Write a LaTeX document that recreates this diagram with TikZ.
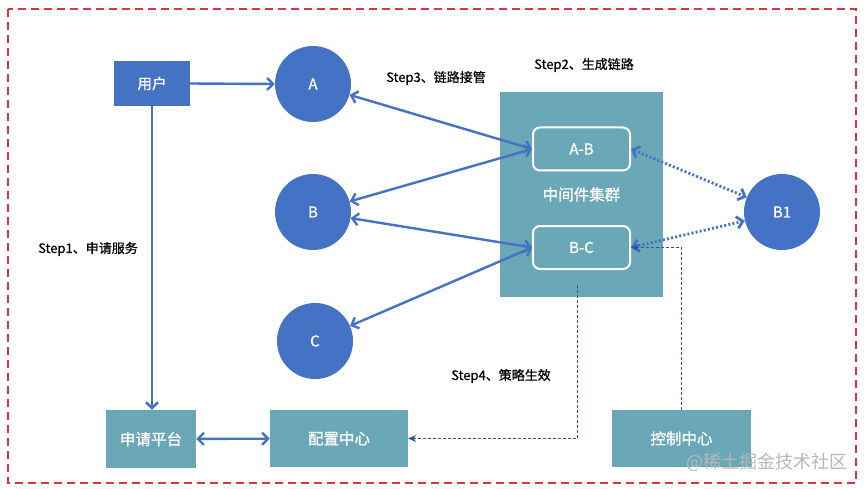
\documentclass[tikz,border=0pt]{standalone}
\usepackage{fontspec}
\setmainfont{Noto Sans CJK SC}
\newfontfamily\semib[FakeBold=1.2]{Noto Sans CJK SC}
\newfontfamily\medf[FakeBold=0.6]{Noto Sans CJK SC}
\usetikzlibrary{arrows.meta,positioning}
\definecolor{mblue}{HTML}{4472C4}
\definecolor{mteal}{HTML}{6AA8B8}
\definecolor{mred}{HTML}{E0333A}
\definecolor{mdash}{HTML}{2F5597}
\tikzset{
  bluebox/.style={fill=mblue, draw=none, text=white, font=\semib\fontsize{14.5}{16}\selectfont, inner sep=0pt},
  tealbox/.style={fill=mteal, draw=none, text=white, font=\semib\fontsize{15.5}{17}\selectfont, inner sep=0pt},
  bcirc/.style={circle, fill=mblue, draw=none, text=white, minimum size=76, inner sep=0pt, font=\semib\fontsize{15}{17}\selectfont},
  inbox/.style={draw=white, line width=2pt, rounded corners=7pt, minimum width=97, minimum height=43, text=white, font=\semib\fontsize{15}{17}\selectfont, inner sep=0pt},
  steplabel/.style={anchor=west, font=\medf\fontsize{13}{15}\selectfont, text=black, inner sep=0pt},
  barrow/.style={draw=mblue, line width=2.4pt, -{Straight Barb[length=6pt,width=12pt]}},
  dbarrow/.style={draw=mblue, line width=2.4pt, {Straight Barb[length=6pt,width=12pt]}-{Straight Barb[length=6pt,width=12pt]}},
  dotarrow/.style={draw=mblue, line width=2.8pt, dash pattern=on 2pt off 2.2pt, {Straight Barb[length=6pt,width=12pt]}-{Straight Barb[length=6pt,width=12pt]}},
  thindash/.style={draw=mdash, line width=1pt, dash pattern=on 3pt off 2pt, -{Stealth[length=8pt,width=7pt]}}
}
\begin{document}
\begin{tikzpicture}[x=1pt,y=-1pt]
\useasboundingbox (0,0) rectangle (864,489);
\fill[white] (0,0) rectangle (864,489);
\draw[mred, line width=1.4pt, dash pattern=on 8pt off 5pt] (8,9) rectangle (856,483);

% nodes
\node[bluebox, minimum width=76, minimum height=45] (user) at (152,83.5) {用户};
\node[bcirc] (A) at (313,84) {A};
\node[bcirc] (B) at (313,212) {B};
\node[bcirc] (C) at (315,341) {C};
\node[bcirc] (B1) at (782,212) {B1};
\node[tealbox, minimum width=163, minimum height=205] (mid) at (581.5,194.5) {中间件集群};
\node[inbox] (AB) at (581.5,149) {A-B};
\node[inbox] (BC) at (581.5,247.5) {B-C};
\node[tealbox, minimum width=90, minimum height=58] (apply) at (151,439) {申请平台};
\node[tealbox, minimum width=138, minimum height=57] (cfg) at (339,438.5) {配置中心};
\node[tealbox, minimum width=139, minimum height=57] (ctrl) at (681.5,438.5) {控制中心};

% labels
\node[steplabel] (s1) at (38,249) {Step1、申请服务};
\node[steplabel] (s2) at (534,65) {Step2、生成链路};
\node[steplabel] (s3) at (386,78) {Step3、链路接管};
\node[steplabel] (s4) at (451,376) {Step4、策略生效};
\node[anchor=west, inner sep=0pt, text=black!28, font=\fontsize{18}{20}\selectfont] (wm) at (686,462) {@稀土掘金技术社区};

% connectors
\draw[barrow] (user.east) -- (A.west);
\draw[barrow] (user.south) -- (user.south |- apply.north);
\draw[dbarrow] (A) -- (AB.west);
\draw[dbarrow] (B) -- (AB.west);
\draw[dbarrow] (B) -- (BC.west);
\draw[dbarrow] (C) -- (BC.west);
\draw[dbarrow] (apply) -- (cfg);
\draw[dotarrow] (AB.east) -- (B1);
\draw[dotarrow] (BC.east) -- (B1);
\draw[thindash] (ctrl.north) |- (BC.east);
\coordinate (mstart) at (577,285);
\draw[thindash] (mstart) |- (cfg.east);
\end{tikzpicture}
\end{document}
